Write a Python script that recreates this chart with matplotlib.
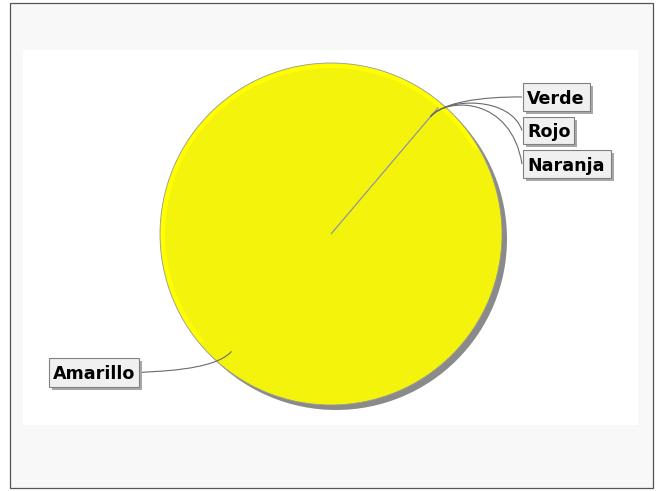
import numpy as np
import matplotlib
matplotlib.use("Agg")
import matplotlib.pyplot as plt
from matplotlib.patches import Rectangle, Circle, Arc
from matplotlib.path import Path
from matplotlib.patches import PathPatch

# ---- data ----
categories = ["Amarillo", "Verde", "Rojo", "Naranja"]
values = [100.0, 0.0, 0.0, 0.0]
slice_colors = ["#f3f30b", "#33cc33", "#ee2222", "#ff9900"]

W, H = 657, 491
fig = plt.figure(figsize=(W / 100, H / 100), dpi=100, facecolor="white")
ax = fig.add_axes([0, 0, 1, 1])

def Y(ypx):
    return H - ypx

# chart background and border
ax.add_patch(Rectangle((10, Y(488)), 643, 485, facecolor="#f8f8f8",
                       edgecolor="#555555", linewidth=0.9, zorder=0))
# plot area
ax.add_patch(Rectangle((23, Y(425)), 615, 375, facecolor="white",
                       edgecolor="none", zorder=0.5))

cx, cy, R = 331.0, Y(234), 171.0

# shadow
ax.add_patch(Circle((cx + 5, cy - 5), R, facecolor="#8a8a8a", edgecolor="none", zorder=1))

wedges, _ = ax.pie(values, colors=slice_colors, startangle=49.7, counterclock=False,
                   center=(cx, cy), radius=R, normalize=True,
                   wedgeprops=dict(edgecolor="#9a9a9a", linewidth=0.6, zorder=2))
for w in wedges:
    w.set_zorder(2)

# highlight rim on upper-left
ax.add_patch(Arc((cx, cy), 2 * (R - 3.0), 2 * (R - 3.0), theta1=30, theta2=220,
                 color="#ffff00", linewidth=3.0, alpha=1.0, zorder=3))

# label boxes (layout, pixel coords: x0, x1, y0, y1) and targets
boxes = {
    "Verde":    (523, 590, 83, 111),
    "Rojo":     (523, 574, 117, 144),
    "Naranja":  (523, 611, 150, 178),
    "Amarillo": (49, 139, 358, 387),
}

link_r = 0.9 * R
elbow_r = 180.0

for w, name in zip(wedges, categories):
    a = np.deg2rad((w.theta1 + w.theta2) / 2.0)
    lx, ly = cx + np.cos(a) * link_r, cy + np.sin(a) * link_r
    ex, ey = cx + np.cos(a) * elbow_r, cy + np.sin(a) * elbow_r
    x0, x1, y0, y1 = boxes[name]
    ty = Y((y0 + y1) / 2.0)
    if np.cos(a) >= 0:
        ancx = cx + elbow_r
        tx = x0 - 1
    else:
        ancx = cx - elbow_r
        tx = x1 + 1
    verts = [(lx, ly), (ex, ey), (ancx, ey), (tx, ty)]
    codes = [Path.MOVETO, Path.CURVE4, Path.CURVE4, Path.CURVE4]
    ax.add_patch(PathPatch(Path(verts, codes), facecolor="none", edgecolor="#6a6a6a",
                           linewidth=0.8, zorder=4))
    # box shadow
    ax.add_patch(Rectangle((x0 + 2.5, Y(y1 + 2.5)), x1 - x0, y1 - y0,
                           facecolor="#a8a8a8", edgecolor="none", zorder=5))
    ax.add_patch(Rectangle((x0, Y(y1)), x1 - x0, y1 - y0,
                           facecolor="#f0f0f0", edgecolor="#808080", linewidth=0.8, zorder=6))
    ax.text(x0 + 4, ty + 0.5, name, fontsize=12.6, fontweight="bold", color="black",
            ha="left", va="center_baseline", family="DejaVu Sans", zorder=7)

ax.set_xlim(0, W)
ax.set_ylim(0, H)
ax.set_aspect("auto")
ax.axis("off")

fig.savefig("out.png", dpi=100, facecolor="white")
